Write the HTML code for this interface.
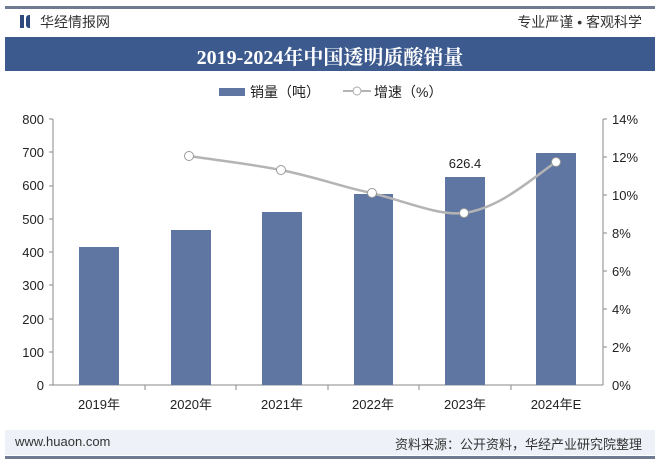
<!DOCTYPE html>
<html><head><meta charset="utf-8"><style>
body{margin:0;width:660px;height:461px;background:#fff;overflow:hidden;font-family:"Liberation Sans","Noto Sans CJK SC",sans-serif;position:relative}
.a{position:absolute}
</style></head><body>
<div class="a" style="left:5px;top:6px;width:650px;height:3px;background:#6f7b90"></div>
<div class="a" style="left:20px;top:15px;width:4px;height:13px;background:#2e4a7d"></div>
<div class="a" style="left:26px;top:15px;width:4px;height:13px;background:#2e4a7d;border-radius:3px 0 0 3px"></div>
<div class="a" style="left:40px;top:12px;font-size:14px;color:#333">华经情报网</div>
<div class="a" style="right:18px;top:12px;font-size:14px;color:#333">专业严谨 • 客观科学</div>
<div class="a" style="left:5px;top:37px;width:650px;height:34px;background:#3c5a8e"></div>
<div class="a" style="left:0;top:41px;width:660px;text-align:center;font-size:20px;font-weight:bold;color:#fff;font-family:'Liberation Serif','Noto Serif CJK SC',serif">2019-2024年中国透明质酸销量</div>
<div class="a" style="left:219px;top:88px;width:26px;height:8px;background:#5f76a3"></div>
<div class="a" style="left:250px;top:82px;font-size:14px;color:#222">销量（吨）</div>
<svg class="a" style="left:343px;top:85px" width="28" height="12"><line x1="0" y1="6" x2="28" y2="6" stroke="#b4b4b4" stroke-width="2"/><circle cx="14" cy="6" r="4" fill="#fff" stroke="#aaa"/></svg>
<div class="a" style="left:374px;top:82px;font-size:14px;color:#222">增速（%）</div>
<svg class="a" style="left:0;top:0" width="660" height="461">
<g font-size="13" fill="#222" font-family="Liberation Sans,sans-serif">
<line x1="53" y1="119" x2="53" y2="385" stroke="#888"/>
<line x1="603" y1="119" x2="603" y2="385" stroke="#888"/>
<line x1="53" y1="385" x2="603" y2="385" stroke="#888"/>
<g text-anchor="end">
<text x="44" y="124">800</text><text x="44" y="157">700</text><text x="44" y="190">600</text><text x="44" y="224">500</text><text x="44" y="257">400</text><text x="44" y="290">300</text><text x="44" y="324">200</text><text x="44" y="357">100</text><text x="44" y="390">0</text>
</g>
<g stroke="#888"><line x1="49" y1="119" x2="53" y2="119"/><line x1="49" y1="152" x2="53" y2="152"/><line x1="49" y1="186" x2="53" y2="186"/><line x1="49" y1="219" x2="53" y2="219"/><line x1="49" y1="252" x2="53" y2="252"/><line x1="49" y1="285" x2="53" y2="285"/><line x1="49" y1="319" x2="53" y2="319"/><line x1="49" y1="352" x2="53" y2="352"/><line x1="49" y1="385" x2="53" y2="385"/>
<line x1="603" y1="119" x2="607" y2="119"/><line x1="603" y1="157" x2="607" y2="157"/><line x1="603" y1="195" x2="607" y2="195"/><line x1="603" y1="233" x2="607" y2="233"/><line x1="603" y1="271" x2="607" y2="271"/><line x1="603" y1="309" x2="607" y2="309"/><line x1="603" y1="347" x2="607" y2="347"/>
<line x1="145" y1="385" x2="145" y2="390"/><line x1="236" y1="385" x2="236" y2="390"/><line x1="328" y1="385" x2="328" y2="390"/><line x1="419" y1="385" x2="419" y2="390"/><line x1="511" y1="385" x2="511" y2="390"/></g>
<text x="612" y="124">14%</text><text x="612" y="162">12%</text><text x="612" y="200">10%</text><text x="612" y="238">8%</text><text x="612" y="276">6%</text><text x="612" y="314">4%</text><text x="612" y="352">2%</text><text x="612" y="390">0%</text>
<g fill="#5f76a3">
<rect x="79" y="247" width="40" height="138"/><rect x="171" y="230" width="40" height="155"/><rect x="262" y="212" width="40" height="173"/><rect x="354" y="194" width="39" height="191"/><rect x="445" y="177" width="40" height="208"/><rect x="536" y="153" width="40" height="232"/>
</g>
<text x="465" y="168" text-anchor="middle">626.4</text>
<path d="M189,156 C230,162 250,164 281,170 C320,178 345,188 372,193 C410,203 440,216 464,213 C500,208 530,180 556,162" fill="none" stroke="#b4b4b4" stroke-width="2.5"/>
<g fill="#fff" stroke="#999" stroke-width="1"><circle cx="189" cy="156" r="4.5"/><circle cx="281" cy="170" r="4.5"/><circle cx="372" cy="193" r="4.5"/><circle cx="464" cy="213" r="4.5"/><circle cx="556" cy="162" r="4.5"/></g>
<g text-anchor="middle" font-family="Liberation Sans,Noto Sans CJK SC,sans-serif"><text x="99" y="409">2019年</text><text x="191" y="409">2020年</text><text x="282" y="409">2021年</text><text x="373" y="409">2022年</text><text x="465" y="409">2023年</text><text x="556" y="409">2024年E</text></g>
</g>
</svg>
<div class="a" style="left:5px;top:430px;width:650px;height:25px;background:#eef2f8"></div>
<div class="a" style="left:15px;top:434px;font-size:13px;color:#333">www.huaon.com</div>
<div class="a" style="right:18px;top:434px;font-size:13px;color:#333">资料来源：公开资料，华经产业研究院整理</div>
<div class="a" style="left:5px;top:456px;width:650px;height:3px;background:#6f7b90"></div>
</body></html>
